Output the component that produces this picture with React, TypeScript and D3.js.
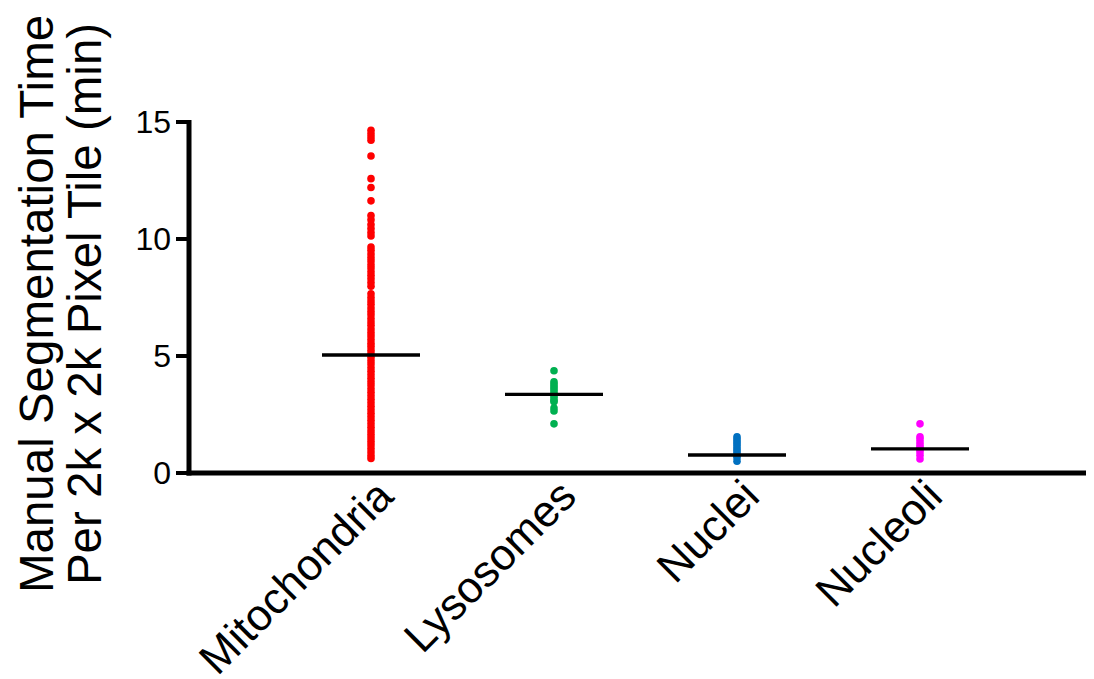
import React from "react";
import * as d3 from "d3";

const categories = ["Mitochondria", "Lysosomes", "Nuclei", "Nucleoli"];
const colors = ["#ff0000", "#00b050", "#0070c0", "#ff00ff"];

const mitochondria = [
  14.65, 14.5, 14.36, 14.22, 13.55, 12.58, 12.2, 11.63, 11.0, 10.82, 10.62, 10.45, 10.28, 10.13,
  9.66, 9.52, 9.36, 9.2, 9.06, 8.9, 8.76, 8.6, 8.45, 8.3, 8.14, 7.98,
  7.66, 7.5, 7.35, 7.21, 7.05, 6.9, 6.76, 6.6, 6.45, 6.31, 6.15, 6.0, 5.86, 5.7, 5.55, 5.41,
  5.25, 5.1, 4.95, 4.8, 4.66, 4.5, 4.35, 4.2, 4.05, 3.9, 3.76, 3.6, 3.45, 3.3, 3.15, 3.0,
  2.85, 2.7, 2.55, 2.4, 2.25, 2.1, 1.95, 1.8, 1.65, 1.5, 1.35, 1.2, 1.05, 0.9, 0.75, 0.62,
];
const lysosomes = [4.37, 3.9, 3.8, 3.7, 3.6, 3.5, 3.4, 3.3, 3.2, 3.1, 3.05, 2.78, 2.65, 2.1];
const nuclei = [1.55, 1.45, 1.35, 1.25, 1.15, 1.05, 0.95, 0.85, 0.75, 0.65, 0.5];
const nucleoli = [2.1, 1.55, 1.45, 1.32, 1.2, 1.1, 1.0, 0.9, 0.76, 0.6];
const seriesValues = [mitochondria, lysosomes, nuclei, nucleoli];
const means = [5.04, 3.36, 0.77, 1.03];
const yTicks = [0, 5, 10, 15];

const W = 1094;
const H = 679;
const FONT = "'Liberation Sans', Arial, sans-serif";

export default function App() {
  const y = d3.scaleLinear().domain([0, 15]).range([473, 122]);
  const x = d3.scalePoint<string>().domain(categories).range([371, 920]);
  const axisX = 189;
  const axisY = y(0);

  return (
    <svg width={W} height={H} style={{ position: "absolute", left: 0, top: 0, background: "#fff" }}>
      {/* y axis title */}
      <g transform={`translate(36,${304}) rotate(-90)`}>
        <text x={0} y={0} textAnchor="middle" dominantBaseline="central" fontFamily={FONT} fontSize={47.5} fill="#000">
          Manual Segmentation Time
        </text>
        <text x={0} y={48} textAnchor="middle" dominantBaseline="central" fontFamily={FONT} fontSize={47.5} fill="#000">
          Per 2k x 2k Pixel Tile (min)
        </text>
      </g>

      {/* points */}
      {seriesValues.map((vals, i) =>
        vals.map((v, j) => (
          <circle key={`${i}-${j}`} cx={x(categories[i])!} cy={y(v)} r={3.8} fill={colors[i]} />
        ))
      )}

      {/* mean lines */}
      {means.map((m, i) => (
        <line
          key={`m${i}`}
          x1={x(categories[i])! - 49}
          x2={x(categories[i])! + 49}
          y1={y(m)}
          y2={y(m)}
          stroke="#000"
          strokeWidth={3.4}
        />
      ))}

      {/* y axis */}
      <line x1={axisX} x2={axisX} y1={y(15) - 2} y2={axisY + 2.5} stroke="#000" strokeWidth={5} />
      {yTicks.map((t) => (
        <g key={t}>
          <line x1={axisX - 13} x2={axisX} y1={y(t)} y2={y(t)} stroke="#000" strokeWidth={4} />
          <text
            x={axisX - 18}
            y={y(t)}
            textAnchor="end"
            dominantBaseline="central"
            fontFamily={FONT}
            fontSize={32}
            fill="#000"
          >
            {t}
          </text>
        </g>
      ))}

      {/* x axis */}
      <line x1={axisX - 2.5} x2={1086} y1={axisY} y2={axisY} stroke="#000" strokeWidth={5} />
      {categories.map((c) => (
        <text
          key={c}
          transform={`translate(${x(c)! + 2},${476}) rotate(-45)`}
          textAnchor="end"
          dominantBaseline="hanging"
          fontFamily={FONT}
          fontSize={44}
          fill="#000"
        >
          {c}
        </text>
      ))}
    </svg>
  );
}
